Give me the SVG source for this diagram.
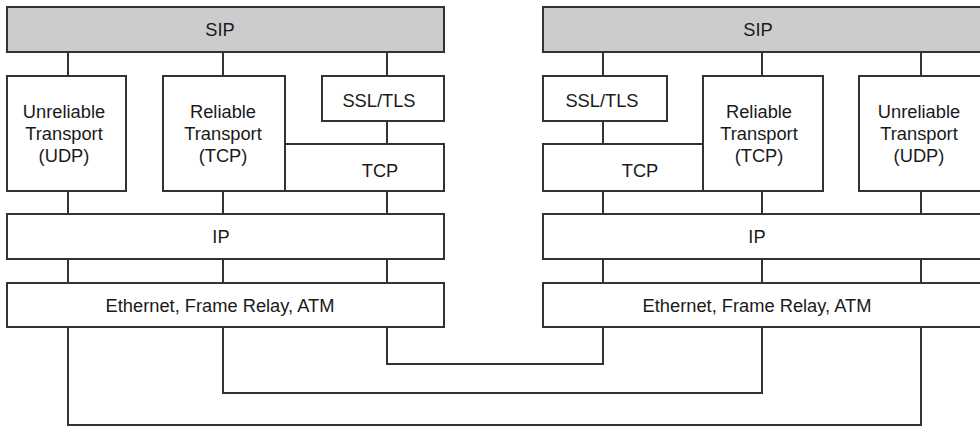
<svg xmlns="http://www.w3.org/2000/svg" width="980" height="427" viewBox="0 0 980 427">
  <style>
    .box { fill: #ffffff; stroke: #333333; stroke-width: 2; }
    .sip { fill: #cccccc; stroke: #333333; stroke-width: 2; }
    .wire { fill: none; stroke: #333333; stroke-width: 2; }
    text { font-family: "Liberation Sans", Arial, sans-serif; font-size: 18.3px; fill: #1a1a1a; text-anchor: middle; }
  </style>
  <rect width="980" height="427" fill="#ffffff"/>

  <!-- connectors between layers -->
  <g id="connectors" class="wire">
    <!-- left stack -->
    <path d="M68 52V76M223 52V76M387 52V76"/>
    <path d="M387 121V144"/>
    <path d="M68 191V214M223 191V214M387 191V214"/>
    <path d="M68 259V283M223 259V283M387 259V283"/>
    <!-- right stack -->
    <path d="M603 52V76M762 52V76M921 52V76"/>
    <path d="M603 121V144"/>
    <path d="M603 191V214M762 191V214M921 191V214"/>
    <path d="M603 259V283M762 259V283M921 259V283"/>
    <!-- links between the two stacks -->
    <path d="M387 327V364H603V327"/>
    <path d="M223 327V393H762V327"/>
    <path d="M68 327V425H921V327"/>
  </g>

  <!-- left stack -->
  <g id="sip-left"><rect class="sip" x="7" y="7" width="437" height="45"/><text x="220" y="36">SIP</text></g>
  <g id="udp-left"><rect class="box" x="7" y="76" width="119" height="115"/>
    <text x="64" y="118">Unreliable</text><text x="64" y="140">Transport</text><text x="64" y="162">(UDP)</text></g>
  <g id="reliable-left"><rect class="box" x="163" y="76" width="122" height="115"/>
    <text x="223" y="118">Reliable</text><text x="223" y="140">Transport</text><text x="223" y="162">(TCP)</text></g>
  <g id="tls-left"><rect class="box" x="322" y="76" width="122" height="45"/><text x="379" y="107">SSL/TLS</text></g>
  <g id="tcp-left"><rect class="box" x="285" y="144" width="159" height="47"/><text x="380" y="177">TCP</text></g>
  <g id="ip-left"><rect class="box" x="7" y="214" width="437" height="45"/><text x="221" y="243">IP</text></g>
  <g id="link-left"><rect class="box" x="7" y="283" width="437" height="44"/><text x="220" y="312">Ethernet, Frame Relay, ATM</text></g>

  <!-- right stack -->
  <g id="sip-right"><rect class="sip" x="543" y="7" width="447" height="45"/><text x="758" y="36">SIP</text></g>
  <g id="tls-right"><rect class="box" x="543" y="76" width="124" height="45"/><text x="602" y="107">SSL/TLS</text></g>
  <g id="tcp-right"><rect class="box" x="543" y="144" width="160" height="47"/><text x="640" y="177">TCP</text></g>
  <g id="reliable-right"><rect class="box" x="703" y="76" width="120" height="115"/>
    <text x="759" y="118">Reliable</text><text x="759" y="140">Transport</text><text x="759" y="162">(TCP)</text></g>
  <g id="udp-right"><rect class="box" x="859" y="76" width="131" height="115"/>
    <text x="919" y="118">Unreliable</text><text x="919" y="140">Transport</text><text x="919" y="162">(UDP)</text></g>
  <g id="ip-right"><rect class="box" x="543" y="214" width="447" height="45"/><text x="757" y="243">IP</text></g>
  <g id="link-right"><rect class="box" x="543" y="283" width="447" height="44"/><text x="757" y="312">Ethernet, Frame Relay, ATM</text></g>
</svg>
